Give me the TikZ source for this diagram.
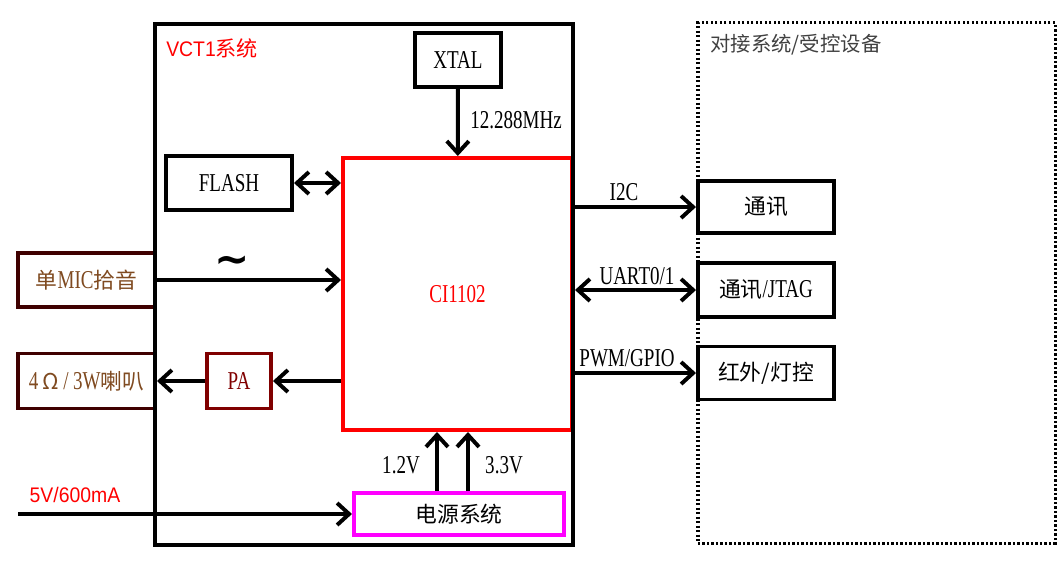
\documentclass[tikz,border=0pt]{standalone}
\usepackage{fontspec}
\setmainfont{Liberation Serif}[FakeStretch=0.74, Scale=1.18]
\newfontfamily\cjk{Noto Sans CJK SC}
\newfontfamily\vsans{Liberation Sans}[FakeStretch=0.92]
\newfontfamily\vdeja{DejaVu Sans}
\usepackage{tikz}
\usetikzlibrary{arrows.meta}
\definecolor{vctred}{HTML}{FF0000}
\definecolor{vctmag}{HTML}{FF00FF}
\definecolor{vctbrown}{HTML}{3F0000}
\definecolor{vcttan}{HTML}{7F4A20}
\definecolor{vctpa}{HTML}{800000}
\definecolor{vctgrey}{HTML}{404040}

\begin{document}
\begin{tikzpicture}[
        x=0.025cm, y=-0.025cm,
        every node/.style={font=\fontsize{15.5}{18}\selectfont, inner sep=0pt},
        blk/.style={
          draw=black, line width=2.8pt,
          minimum width=3.4cm, minimum height=1.3cm, align=center,
        },
        io/.style={
          draw=vctbrown, line width=2.8pt, text=vcttan,
          minimum width=3.425cm, minimum height=1.33cm,
        },
        pa/.style={
          draw=vctpa, line width=2.8pt, text=vctpa,
          minimum width=1.6cm, minimum height=1.375cm,
        },
        chip/.style={
          draw=vctred, line width=2.8pt, text=vctred,
          minimum width=5.725cm, minimum height=6.8cm,
        },
        pwr/.style={
          draw=vctmag, line width=2.8pt,
          minimum width=5.25cm, minimum height=1.05cm,
        },
        frame/.style={draw=black, line width=2.8pt},
        dfrm/.style={draw=black, line width=2.2pt,
          dash pattern=on 1.6pt off 1.6pt},
        arr/.style={-{Straight Barb[length=0.3cm,width=0.55cm]}, line width=2.8pt},
        darr/.style={{Straight Barb[length=0.3cm,width=0.55cm]}-{Straight Barb[length=0.3cm,width=0.55cm]},
          line width=2.8pt},
        rlbl/.style={font=\vsans\fontsize{15}{18}\selectfont, text=vctred},
      ]
      \useasboundingbox (0,0) rectangle (1064,566);

      \node[blk, minimum width=2.15cm, minimum height=1.35cm] (xtal) at (458,60) {XTAL};
      \node[blk, minimum width=3.15cm, minimum height=1.35cm] (flash) at (229,183) {FLASH};
      \node[chip] (ci) at (457.5,294) {CI1102};
      \node[io] (mic) at (86.5,280) {{\cjk 单}MIC{\cjk 拾音}};
      \node[io, minimum height=1.375cm] (spk) at (86.5,381) {4\,{\cjk Ω}\,/\,3W{\cjk 喇叭}};
      \node[pa] (pa) at (239,381) {PA};
      \node[pwr] (pw) at (459,514) {\cjk 电源系统};
      \coordinate (vin) at (18,514);

      \node[frame, minimum width=10.45cm, minimum height=13.025cm] (vct) at (364,284.5) {};
      \node[rlbl, anchor=west] at (166,48) {VCT1{\cjk 系统}};

      \node[dfrm, minimum width=8.925cm, minimum height=13cm] (dev) at (876.5,283) {};
      \node[anchor=west, text=vctgrey, font=\cjk\fontsize{14.5}{18}\selectfont] at (710,45) {对接系统/受控设备};
      \node[blk] (tx1) at (766,207) {\cjk 通讯};
      \node[blk, minimum height=1.35cm] (tx2) at (766,290) {{\cjk 通讯}/JTAG};
      \node[blk, minimum height=1.325cm] (tx3) at (766,373) {{\cjk 红外/灯控}};

      \draw[arr] (xtal) -- (ci);
      \node[anchor=west] at (470,120) {12.288MHz};
      \draw[darr] (flash.east) -- (flash.east -| ci.west);
      \draw[arr] (mic.east) -- (mic.east -| ci.west);
      \node[font=\vdeja\bfseries\fontsize{30}{30}\selectfont] (tld) at (232,265) {∼};
      \draw[arr] (pa.east -| ci.west) -- (pa.east);
      \draw[arr] (pa.west) -- (spk.east);
      \draw[arr] (vin) -- (pw.west);
      \node[rlbl] at (75,495) {5V/600mA};
      \draw[arr] ([xshift=-0.55cm]pw.north) -- ([xshift=-0.55cm]pw.north |- ci.south);
      \draw[arr] ([xshift=0.225cm]pw.north) -- ([xshift=0.225cm]pw.north |- ci.south);
      \node at (401,465) {1.2V};
      \node at (504,465) {3.3V};

      \draw[arr] (tx1.west -| vct.east) -- (tx1.west);
      \node at (624,192) {I2C};
      \draw[darr] (tx2.west -| vct.east) -- (tx2.west);
      \node at (637,276) {UART0/1};
      \draw[arr] (tx3.west -| vct.east) -- (tx3.west);
      \node at (627,358) {PWM/GPIO};
    \end{tikzpicture}
\end{document}
